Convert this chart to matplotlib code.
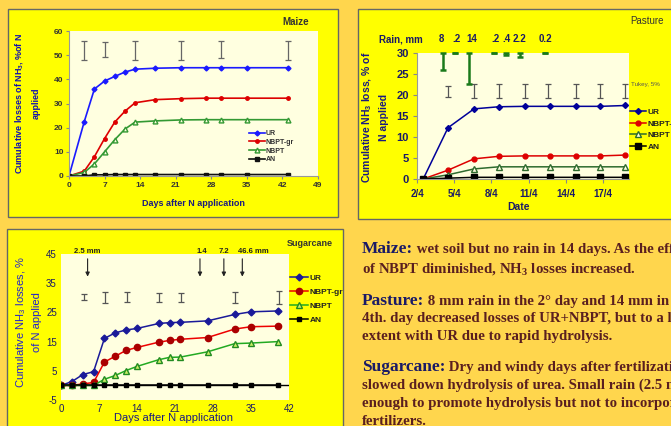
import matplotlib
matplotlib.use("Agg")
import matplotlib.pyplot as plt
from matplotlib.patches import Rectangle

W, H = 671, 426

# ---- Maize data ----
maize_days = [0, 3, 5, 7, 9, 11, 13, 17, 22, 27, 30, 35, 43]
maize_ur = [0, 22.5, 36, 39.3, 41.2, 43, 44.2, 44.6, 44.8, 44.8, 44.8, 44.8, 44.8]
maize_gr = [0, 2, 8, 15.5, 22.3, 26.8, 30.3, 31.6, 32, 32.2, 32.2, 32.2, 32.2]
maize_nbpt = [0, 1.5, 5, 10, 15, 19.4, 22.3, 22.8, 23.2, 23.3, 23.3, 23.3, 23.3]
maize_an = [0, 0, 0.5, 0.5, 0.6, 0.6, 0.6, 0.6, 0.6, 0.6, 0.6, 0.6, 0.6]
maize_err_days = [3, 7, 13, 22, 30, 43]
maize_err_low = [48, 49.3, 48, 48, 49, 48]
maize_err_high = [56, 55.5, 56, 56, 56, 56]

# ---- Pasture data (x = day of April) ----
pasture_days = [2.5, 4.5, 6.6, 8.6, 10.7, 12.7, 14.8, 16.8, 18.8]
pasture_ur = [0, 12.2, 16.7, 17.2, 17.3, 17.3, 17.3, 17.3, 17.5]
pasture_gr = [0, 2.1, 4.8, 5.4, 5.5, 5.5, 5.5, 5.5, 5.7]
pasture_nbpt = [0, 1.0, 2.4, 2.9, 2.9, 2.9, 2.9, 2.9, 2.9]
pasture_an = [0, 0.2, 0.4, 0.4, 0.4, 0.4, 0.4, 0.4, 0.4]
pasture_err_days = [4.5, 6.6, 8.6, 10.7, 12.6, 14.8, 16.8, 18.8]
pasture_err_low = [19.6, 19.4, 19.4, 19.4, 19.4, 19.4, 19.4, 19.4]
pasture_err_high = [22.1, 22.7, 22.7, 22.7, 22.7, 22.7, 22.7, 22.7]
pasture_ticks = [2, 5, 8, 11, 14, 17]
pasture_ticklabels = ["2/4", "5/4", "8/4", "11/4", "14/4", "17/4"]
rain_days = [4.1, 5.1, 6.2, 8.2, 9.2, 10.3, 12.3]
rain_label_days = [3.95, 5.15, 6.4, 8.3, 9.25, 10.3, 12.4]
rain_labels = ["8", ".2", "14", ".2", ".4", "2.2", "0.2"]
rain_bar_bottom = [26.0, 29.9, 22.7, 29.9, 29.6, 29.0, 29.9]

# ---- Sugarcane data ----
sug_days = [0, 2, 4, 6, 8, 10, 12, 14, 18, 20, 22, 27, 32, 35, 40]
sug_ur = [0, 1.3, 3.7, 4.7, 16.1, 18.0, 19.0, 19.5, 21.2, 21.5, 21.6, 22.1, 24.3, 25.2, 25.5]
sug_gr = [0, 0, 0.5, 1.0, 8.0, 10.0, 12.0, 13.0, 14.8, 15.4, 15.8, 16.4, 19.3, 20.1, 20.3]
sug_nbpt = [0, 0, 0, 0, 2.1, 3.4, 5.1, 6.5, 8.8, 9.6, 9.7, 11.5, 14.3, 14.5, 15.0]
sug_an = [0, 0, 0, 0, 0, 0, 0, 0, 0, 0, 0, 0, 0, 0, 0]
sug_err_days = [4.2, 8.1, 12.1, 18.1, 22.1, 32.1, 40.2]
sug_err_low = [29.1, 28.2, 28.4, 28.7, 28.7, 28.2, 27.9]
sug_err_high = [31.2, 32.1, 32.1, 31.5, 31.5, 32.1, 32.4]
sug_rain_days = [4.9, 25.6, 30.0, 33.4]
sug_rain_labels = ["2.5 mm", "1.4", "7.2", "46.6 mm"]
sug_label_days = [4.9, 25.9, 30.0, 32.6]
sug_label_align = ["center", "center", "center", "left"]

# ---- Text block ----
notes = [
    ("Maize:", " wet soil but no rain in 14 days. As the effect", 253),
    ("", "of NBPT diminished, NH$\\mathregular{_3}$ losses increased.", 273),
    ("Pasture:", " 8 mm rain in the 2\u00b0 day and 14 mm in the", 305),
    ("", "4th. day decreased losses of UR+NBPT, but to a lesser", 322),
    ("", "extent with UR due to rapid hydrolysis.", 340),
    ("Sugarcane:", " Dry and windy days after fertilization", 371),
    ("", "slowed down hydrolysis of urea. Small rain (2.5 mm) was", 389),
    ("", "enough to promote hydrolysis but not to incorporate the", 407),
    ("", "fertilizers.", 425),
]

plt.rcParams['font.family'] = ['Liberation Sans', 'DejaVu Sans']
plt.rcParams['axes.unicode_minus'] = False

fig = plt.figure(figsize=(W / 100, H / 100), dpi=100)
fig.patch.set_facecolor('#FFD64D')


def panel(x0, y0, x1, y1):
    fig.patches.append(Rectangle((x0 / W, 1 - y1 / H), (x1 - x0) / W, (y1 - y0) / H,
                                 transform=fig.transFigure, facecolor='#FFFF00',
                                 edgecolor='#666666', lw=1, zorder=-5))


def axes_px(x0, y0, x1, y1):
    ax = fig.add_axes([x0 / W, 1 - y1 / H, (x1 - x0) / W, (y1 - y0) / H])
    ax.set_facecolor('#FFFFE0')
    return ax


def ftext(x, y, s, **kw):
    return fig.text(x / W, 1 - y / H, s, **kw)


def errbars(ax, days, low, high, color):
    mid = [(a + b) / 2 for a, b in zip(low, high)]
    half = [(b - a) / 2 for a, b in zip(low, high)]
    ax.errorbar(days, mid, yerr=half, fmt='none', ecolor=color, elinewidth=0.9,
                capsize=2.5, capthick=0.9)


def bold_ticks(ax):
    for lab in ax.get_xticklabels() + ax.get_yticklabels():
        lab.set_fontweight('bold')


panel(8, 9, 338, 217)
panel(358, 9, 690, 219)
panel(7, 229, 343, 440)

# ---------------- Maize ----------------
ax1 = axes_px(69, 31, 318, 176)
ax1.plot(maize_days, maize_ur, '-D', color='#1a1aff', ms=2.5, lw=1.2, label='UR')
ax1.plot(maize_days, maize_gr, '-o', color='#dd0000', ms=2.5, lw=1.2, label='NBPT-gr')
ax1.plot(maize_days, maize_nbpt, '-^', color='#339933', mfc='#FFFFE0', ms=3.5, lw=1.2, label='NBPT')
ax1.plot(maize_days, maize_an, '-s', color='#111111', ms=3, lw=1.2, label='AN')
errbars(ax1, maize_err_days, maize_err_low, maize_err_high, '#666666')
ax1.set_xlim(0, 49)
ax1.set_ylim(0, 60)
ax1.set_xticks(range(0, 50, 7))
ax1.set_yticks(range(0, 61, 10))
ax1.tick_params(labelsize=6, length=2, color='#888888', labelcolor='#333333', pad=2)
bold_ticks(ax1)
for s in ['top', 'right']:
    ax1.spines[s].set_visible(False)
for s in ['left', 'bottom']:
    ax1.spines[s].set_color('#999999')
ax1.legend(loc='upper left', bbox_to_anchor=(0.71, 0.34), frameon=False,
           prop={'size': 5, 'weight': 'bold'}, handlelength=2.2, labelspacing=0.25,
           borderpad=0, handletextpad=0.2, labelcolor='#333333')
ftext(296, 22, 'Maize', ha='center', va='center', fontsize=7, fontweight='bold', color='#333333')
ftext(27, 103, 'Cumulative losses of NH$\\mathregular{_3}$, %of N\napplied', rotation=90,
      ha='center', va='center', fontsize=6.5, fontweight='bold', color='#1010b0',
      linespacing=1.9)
ftext(193, 204, 'Days after N application', ha='center', va='center', fontsize=6.5,
      fontweight='bold', color='#1a1a80')

# ---------------- Pasture ----------------
ax2 = axes_px(417, 53, 629, 179)
ax2.plot(pasture_days, pasture_ur, '-D', color='#000099', ms=3, lw=1.1, label='UR')
ax2.plot(pasture_days, pasture_gr, '-o', color='#dd0000', ms=3.5, lw=1.1, label='NBPT-gr')
ax2.plot(pasture_days, pasture_nbpt, '-^', color='#2e6b2e', mfc='#FFFFE0', ms=4, lw=1.1, label='NBPT')
ax2.plot(pasture_days, pasture_an, '-s', color='#000000', ms=4, lw=1.1, label='AN')
errbars(ax2, pasture_err_days, pasture_err_low, pasture_err_high, '#555555')
rain_top = [30 for _ in rain_days]
rain_len = [t - b for t, b in zip(rain_top, rain_bar_bottom)]
ax2.errorbar(rain_days, rain_top, yerr=[rain_len, [0] * len(rain_days)], fmt='none',
             ecolor='#1a7a1a', elinewidth=1.8, capsize=2.5, capthick=1.8, clip_on=False)
for d, lab in zip(rain_label_days, rain_labels):
    ax2.text(d, 1.11, lab, transform=ax2.get_xaxis_transform(), ha='center', va='center',
             fontsize=7, fontweight='bold', color='#1a1a66')
ftext(401, 39, 'Rain, mm', ha='center', va='center', fontsize=7, fontweight='bold',
      color='#1a1a66')
ax2.set_xlim(2, 19.1)
ax2.set_ylim(0, 30)
ax2.set_xticks(pasture_ticks)
ax2.set_xticklabels(pasture_ticklabels)
ax2.set_yticks(range(0, 31, 5))
ax2.tick_params(axis='y', labelsize=8, length=3, color='#888888', labelcolor='#1a1a66', pad=3)
ax2.tick_params(axis='x', labelsize=7, length=3, color='#888888', labelcolor='#1a1a66', pad=4)
bold_ticks(ax2)
for s in ['top', 'right']:
    ax2.spines[s].set_visible(False)
for s in ['left', 'bottom']:
    ax2.spines[s].set_color('#999999')
ax2.legend(loc='upper left', bbox_to_anchor=(0.985, 0.595), frameon=False,
           prop={'size': 6, 'weight': 'bold'}, handlelength=1.9, labelspacing=0.45,
           borderpad=0, handletextpad=0.2, labelcolor='#222222')
ax2.text(1.01, 0.75, 'Tukey, 5%', transform=ax2.transAxes, fontsize=4.5, color='#555555',
         ha='left', va='center')
ftext(647, 21, 'Pasture', ha='center', va='center', fontsize=7, color='#333333')
ftext(375, 117, 'Cumulative NH$\\mathregular{_3}$ loss, % of\nN applied', rotation=90,
      ha='center', va='center', fontsize=7.5, fontweight='bold', color='#1a1a80',
      linespacing=1.6)
ftext(518, 207, 'Date', ha='center', va='center', fontsize=7.5, fontweight='bold',
      color='#1a1a66')

# ---------------- Sugarcane ----------------
ax3 = axes_px(61, 254, 289, 400)
ax3.axhline(0, color='#000000', lw=1, zorder=1)
ax3.plot(sug_days, sug_ur, '-D', color='#1a1a99', ms=3.5, lw=1.1, label='UR')
ax3.plot(sug_days, sug_gr, '-o', color='#ee0000', mfc='#aa0000', mec='#aa0000', ms=4.5, lw=1.1,
         label='NBPT-gr')
ax3.plot(sug_days, sug_nbpt, '-^', color='#22aa22', mfc='#ccee66', mec='#228b22', ms=5, lw=1.1,
         label='NBPT')
ax3.plot(sug_days, sug_an, '-s', color='#000000', ms=3.5, lw=1.1, label='AN')
errbars(ax3, sug_err_days, sug_err_low, sug_err_high, '#555555')
for d in sug_rain_days:
    ax3.annotate('', xy=(d, 36.3), xytext=(d, 44.3),
                 arrowprops=dict(arrowstyle='-|>', color='#222222', lw=0.8,
                                 mutation_scale=6))
for d, lab, al in zip(sug_label_days, sug_rain_labels, sug_label_align):
    ax3.text(d, 45.8, lab, ha=al, va='center', fontsize=5.5, fontweight='bold',
             color='#222222')
ax3.set_xlim(0, 42)
ax3.set_ylim(-5, 45)
ax3.set_xticks(range(0, 43, 7))
ax3.set_yticks(range(-5, 46, 10))
ax3.tick_params(labelsize=7, length=0, labelcolor='#1a1a66', pad=3)
for s in ax3.spines.values():
    s.set_visible(False)
ax3.legend(loc='upper left', bbox_to_anchor=(0.985, 0.89), frameon=False,
           prop={'size': 6, 'weight': 'bold'}, handlelength=2.2, labelspacing=0.75,
           borderpad=0, handletextpad=0.2, labelcolor='#222222')
ftext(310, 243, 'Sugarcane', ha='center', va='center', fontsize=6.5, fontweight='bold',
      color='#333333')
ftext(28, 322, 'Cumulative NH$\\mathregular{_3}$ losses, %\nof N applied', rotation=90,
      ha='center', va='center', fontsize=8, color='#2222cc', linespacing=1.5)
ftext(173, 418, 'Days after N application', ha='center', va='center', fontsize=8,
      color='#1a1a80')

# ---------------- Notes ----------------
for head, body, base in notes:
    y = H - base
    if head:
        t = fig.text(362 / W, y / H, head, fontsize=12.5, fontweight='bold',
                     family='Liberation Serif', color='#1a1a66', va='baseline')
        plt.annotate(body, xy=(1, y), xycoords=(t, 'figure pixels'),
                     fontsize=10.7, fontweight='bold', family='Liberation Serif',
                     color='#5a1f1f', va='baseline', annotation_clip=False)
    else:
        fig.text(362 / W, y / H, body, fontsize=10.7, fontweight='bold',
                 family='Liberation Serif', color='#5a1f1f', va='baseline')

fig.savefig('out.png', dpi=100, facecolor=fig.get_facecolor())
